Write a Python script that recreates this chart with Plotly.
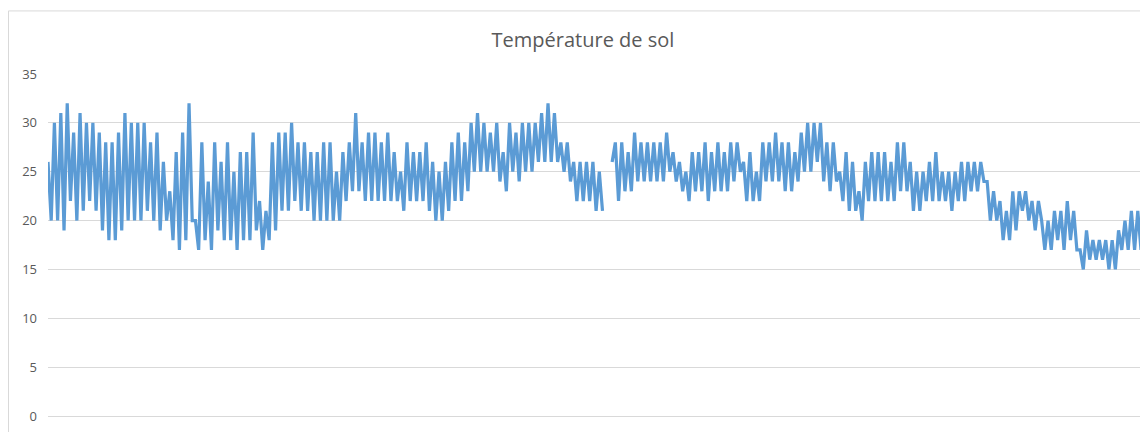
import plotly.graph_objects as go

title_text = "Température de sol"
y_ticks = [0, 5, 10, 15, 20, 25, 30, 35]

seg1 = [26,20,30,20,31,19,32,22,29,20,31,21,30,22,30,21,29,19,28,18,28,18,29,19,31,20,30,20,30,20]
seg2 = [30,21,28,20,29,19,26,20,23,18,27,17,29,18,32,20,20,17,28,18,24,17,28,19,26,18,28,18,25,17,27]
seg3 = [18,27,18,29,19,22,17,21,18,28,19,29,21,29,21,30,22,28,21,28,21,27,20,27,20,28,20,28,20,25,20]
seg4 = [27,22,28,23,31,23,28,22,29,22,29,22,28,22,29,22,27,22,25,21,28,22,27,22,27,22,28,21,26,20,25]
seg5 = [20,26,21,28,22,29,22,28,23,30,25,31,25,30,25,29,25,30,24,27,23,30,25,29,24,30,25,30,25,30,26]
seg6a = [31,26,32,26,31,26,28,25,28,24,26,22,26,22,26,22,26,21,25,21]
missing = [None, None]
seg6b = [26,28,22,28,23,27,23,29,24,28]
seg7 = [24,28,24,28,24,28,24,29,25,27,24,26,23,25,22,27,23,27,23,28,22,27,23,28,23,27,23,28,24,28,25,26]
seg8 = [22,27,22,25,22,28,24,28,24,29,24,28,23,28,23,27,24,29,25,30,25,30,26,30,24,28,23,28,24,25,22]
seg9 = [27,21,26,21,23,20,26,22,27,22,27,22,27,22,26,22,28,23,28,23,26,21,25,21,25,22,26,22,27,22,25]
seg10 = [22,25,21,25,22,26,22,26,23,26,23,26,24,24,20,23,20,22,18,21,18,23,19,23,21,23,20,22,19,22,20]
seg11 = [17,20,17,21,18,21,17,22,18,21,17,17,15,19,16,18,16,18,16,18,15,18,15,19,17,20,17,21,17,21,17]

temperature = (seg1 + seg2 + seg3 + seg4 + seg5 + seg6a + missing + seg6b
               + seg7 + seg8 + seg9 + seg10 + seg11)
index = list(range(len(temperature)))

# page has an 8px body margin, so the figure is sized to fit inside the viewport
W, H = 1140, 424
OFF = 8
plot_left, plot_right, plot_top, plot_bottom = 48 - OFF, 1141 - OFF, 74 - OFF, 421 - OFF
plot_w = plot_right - plot_left
plot_h = plot_bottom - plot_top

fig = go.Figure()
fig.add_trace(go.Scatter(
    x=index, y=temperature, mode="lines",
    line=dict(color="#5B9BD5", width=3.2),
    connectgaps=False, showlegend=False, hoverinfo="y",
))

fig.update_layout(
    width=W, height=H,
    margin=dict(l=plot_left, r=W - plot_right, t=plot_top, b=H - plot_bottom),
    paper_bgcolor="white", plot_bgcolor="white",
    title=dict(text=title_text, x=(583 - OFF) / W, xanchor="center",
               y=1 - (40 - OFF) / H, yanchor="middle",
               font=dict(family="Open Sans", size=20, color="#595959")),
    xaxis=dict(range=[0, len(temperature) - 1], showticklabels=False, showgrid=False,
               zeroline=False, showline=False, ticks=""),
    yaxis=dict(range=[0, 35], tickvals=y_ticks, showgrid=True, gridcolor="#d9d9d9",
               gridwidth=1, zeroline=True, zerolinecolor="#d9d9d9", zerolinewidth=1,
               showline=False, ticks="", ticklabelstandoff=10,
               tickfont=dict(family="Open Sans", size=13, color="#595959")),
    shapes=[dict(type="rect", xref="paper", yref="paper",
                 x0=(0.5 - plot_left) / plot_w, x1=1.3, y0=-0.3,
                 y1=(plot_bottom - (10 - OFF)) / plot_h,
                 line=dict(color="#d9d9d9", width=1), layer="below")],
)

fig.write_html("out.html")
